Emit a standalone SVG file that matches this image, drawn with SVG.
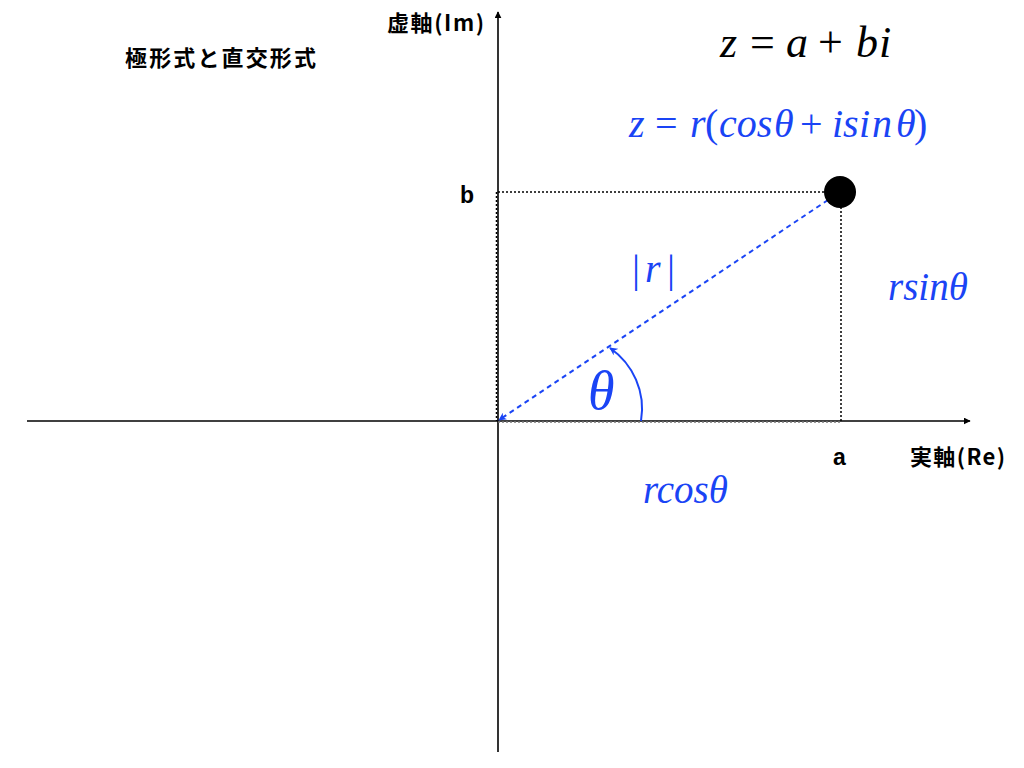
<svg xmlns="http://www.w3.org/2000/svg" width="1024" height="768" viewBox="0 0 1024 768">
<defs>
<style>
.jp{font-family:"Noto Sans CJK JP","Liberation Sans",sans-serif;font-weight:bold;font-size:22px;fill:#000}
.lbl{font-family:"Liberation Sans","Noto Sans CJK JP",sans-serif;font-weight:bold;font-size:23px;fill:#000}
.m{font-family:"Liberation Serif","DejaVu Serif",serif;font-style:italic}
.up{font-style:normal}
.blue{fill:#1a44f5}
.axis{stroke:#000;stroke-width:1.6;fill:none}
.dot{stroke:#000;stroke-width:1.5;stroke-dasharray:2 2;fill:none}
.vec{stroke:#1a44f5;stroke-width:2;stroke-dasharray:5 4;fill:none}
.arc{stroke:#1a44f5;stroke-width:2;fill:none}
</style>
<marker id="ah" viewBox="0 0 10 10" refX="9" refY="5" markerWidth="7" markerHeight="7" markerUnits="userSpaceOnUse" orient="auto"><path d="M0,0 L10,5 L0,10 Z" fill="#000"/></marker>
<marker id="bh" viewBox="0 0 10 10" refX="9" refY="5" markerWidth="8" markerHeight="8" markerUnits="userSpaceOnUse" orient="auto"><path d="M0,0 L10,5 L0,10 L3,5 Z" fill="#1a44f5"/></marker>
</defs>
<rect width="1024" height="768" fill="#fff"/>
<g id="connectors">
<line class="axis" x1="27" y1="421" x2="970" y2="421" marker-end="url(#ah)"/>
<line class="axis" x1="498" y1="752" x2="498" y2="12" marker-end="url(#ah)"/>
<line class="dot" x1="498" y1="192" x2="826" y2="192"/>
<line class="dot" x1="496.5" y1="192" x2="496.5" y2="421"/>
<line class="dot" x1="841" y1="207" x2="841" y2="421"/>
<line class="dot" x1="498" y1="422" x2="841" y2="422" style="stroke:#777"/>
<line class="vec" x1="828" y1="200" x2="499" y2="420" marker-end="url(#bh)"/>
<path class="arc" d="M641,421 C646,392 633,364 610,348" marker-end="url(#bh)"/>
</g>
<g id="point"><circle cx="840" cy="192" r="16" fill="#000"/></g>
<g id="labels">
<text class="jp" x="387" y="31" textLength="97">虚軸(Im)</text>
<text class="jp" x="125" y="66" textLength="191">極形式と直交形式</text>
<text class="jp" x="910" y="465" textLength="95">実軸(Re)</text>
<text class="lbl" x="460" y="203">b</text>
<text class="lbl" x="833" y="465">a</text>
<text class="m" y="57" font-size="44"><tspan x="720">z</tspan><tspan class="up" x="750">=</tspan><tspan x="786">a</tspan><tspan class="up" x="818">+</tspan><tspan x="856">b</tspan><tspan x="879">i</tspan></text>
<text class="m blue" y="137" font-size="40"><tspan x="629">z</tspan><tspan class="up" x="655">=</tspan><tspan x="690">r</tspan><tspan class="up" x="705">(</tspan><tspan x="719">cos</tspan><tspan x="774">θ</tspan><tspan class="up" x="800">+</tspan><tspan x="832">i</tspan><tspan x="843">s</tspan><tspan x="859">i</tspan><tspan x="872">n</tspan><tspan x="896">θ</tspan><tspan class="up" x="914">)</tspan></text>
<text class="m blue" y="282" font-size="40"><tspan class="up" x="632">|</tspan><tspan x="645">r</tspan><tspan class="up" x="667">|</tspan></text>
<text class="m blue" x="888" y="300" font-size="39">rsinθ</text>
<text class="m blue" x="588" y="409" font-size="54">θ</text>
<text class="m blue" x="643" y="503" font-size="39">rcosθ</text>
</g>
</svg>
